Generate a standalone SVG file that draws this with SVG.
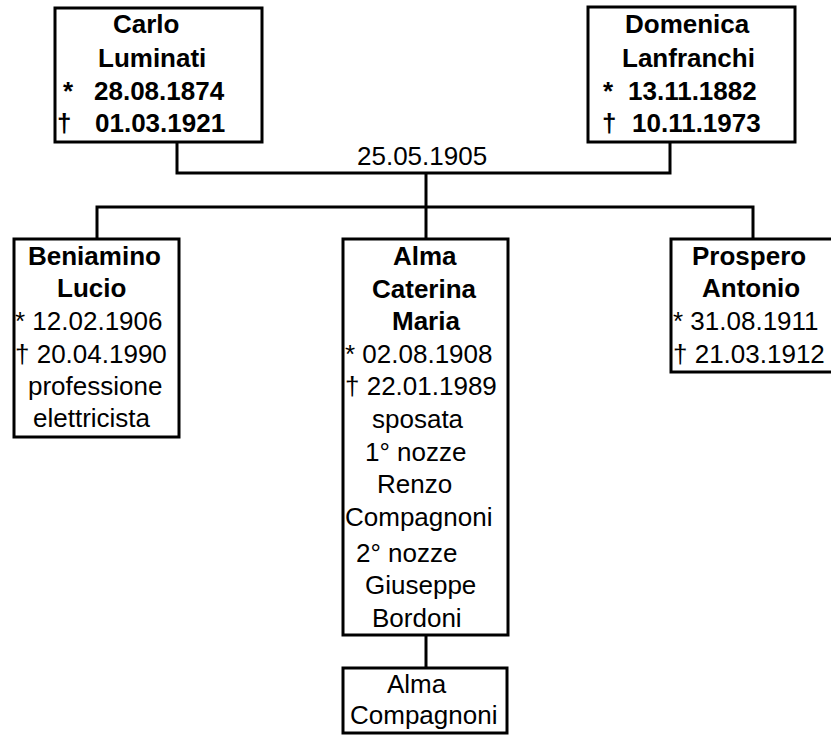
<svg xmlns="http://www.w3.org/2000/svg" width="831" height="735" viewBox="0 0 831 735">
  <style>
    .box { fill: #ffffff; stroke: #000000; stroke-width: 3; }
    .link { fill: none; stroke: #000000; stroke-width: 3; }
    text { font-family: "Liberation Sans", Arial, sans-serif; font-size: 26px; fill: #000000; }
    .b { font-weight: bold; }
  </style>
  <rect width="831" height="735" fill="#ffffff"/>

  <!-- connectors -->
  <g id="connectors">
    <polyline class="link" points="177,142 177,173 670,173 670,142"/>
    <line class="link" x1="426" y1="173" x2="426" y2="239"/>
    <polyline class="link" points="97,239 97,207 753,207 753,239"/>
    <line class="link" x1="426" y1="635" x2="426" y2="668"/>
    <text x="357" y="165">25.05.1905</text>
  </g>

  <!-- parents -->
  <g id="carlo">
    <rect class="box" x="55" y="8" width="207" height="134"/>
    <text class="b" x="113" y="33">Carlo</text>
    <text class="b" x="98" y="67">Luminati</text>
    <text class="b" y="100"><tspan x="63">*</tspan><tspan x="94">28.08.1874</tspan></text>
    <text class="b" y="132"><tspan x="57">†</tspan><tspan x="95">01.03.1921</tspan></text>
  </g>

  <g id="domenica">
    <rect class="box" x="588" y="7" width="207" height="135"/>
    <text class="b" x="625" y="33">Domenica</text>
    <text class="b" x="622" y="67">Lanfranchi</text>
    <text class="b" y="100"><tspan x="603">*</tspan><tspan x="628">13.11.1882</tspan></text>
    <text class="b" y="132"><tspan x="602">†</tspan><tspan x="632">10.11.1973</tspan></text>
  </g>

  <!-- children -->
  <g id="beniamino">
    <rect class="box" x="14" y="239" width="165" height="198"/>
    <text class="b" x="28" y="265">Beniamino</text>
    <text class="b" x="57" y="297">Lucio</text>
    <text x="15" y="330">* 12.02.1906</text>
    <text x="15" y="363">† 20.04.1990</text>
    <text x="28" y="395">professione</text>
    <text x="33" y="427">elettricista</text>
  </g>

  <g id="alma-caterina">
    <rect class="box" x="343" y="239" width="165" height="396"/>
    <text class="b" x="393" y="265">Alma</text>
    <text class="b" x="372" y="298">Caterina</text>
    <text class="b" x="392" y="330">Maria</text>
    <text x="345" y="363">* 02.08.1908</text>
    <text x="345" y="395">† 22.01.1989</text>
    <text x="372" y="428">sposata</text>
    <text x="365" y="461">1° nozze</text>
    <text x="377" y="493">Renzo</text>
    <text x="345" y="526">Compagnoni</text>
    <text x="356" y="562">2° nozze</text>
    <text x="365" y="594">Giuseppe</text>
    <text x="372" y="627">Bordoni</text>
  </g>

  <g id="prospero">
    <rect class="box" x="671" y="239" width="175" height="133"/>
    <text class="b" x="692" y="265">Prospero</text>
    <text class="b" x="702" y="297">Antonio</text>
    <text x="673" y="330">* 31.08.1911</text>
    <text x="673" y="363">† 21.03.1912</text>
  </g>

  <!-- grandchild -->
  <g id="alma-compagnoni">
    <rect class="box" x="343" y="668" width="164" height="65"/>
    <text x="387" y="693">Alma</text>
    <text x="350" y="724">Compagnoni</text>
  </g>
</svg>
